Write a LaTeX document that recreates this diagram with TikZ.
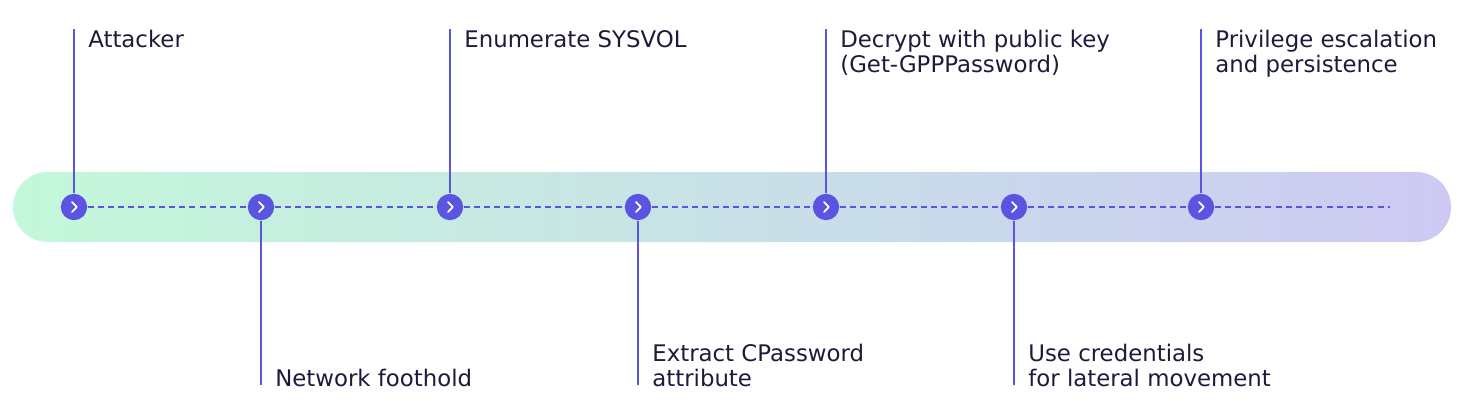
\documentclass[tikz,border=0pt]{standalone}
\usepackage{fontspec}
\setmainfont{DejaVu Sans}
\usepackage{xcolor}
\usetikzlibrary{positioning}

\definecolor{stepblue}{HTML}{5B54E0}
\definecolor{labelink}{HTML}{1C1B3B}
\definecolor{mintbg}{HTML}{C4F8DA}
\definecolor{lilacbg}{HTML}{CDC9F3}

\begin{document}
\begin{tikzpicture}[
  x=0.02cm, y=-0.02cm,
  every node/.style={font=\fontsize{13pt}{14.2pt}\selectfont, text=labelink},
  dot/.style={circle, fill=stepblue, minimum size=15pt, inner sep=0pt},
  stem/.style={draw=stepblue, line width=1.15pt},
  trail/.style={draw=stepblue, line width=1.15pt, dash pattern=on 3.4pt off 2.4pt},
  chev/.style={draw=white, line width=1pt, line cap=round, line join=round},
  tag/.style={anchor=base west, align=left, inner sep=0pt},
]
\useasboundingbox (0,0) rectangle (1464,414);
% Track
\shade[left color=mintbg, right color=lilacbg, rounded corners=19.8pt]
  (13,172) rectangle (1451,242);

% Steps
\node[dot] (d1) at (74,207) {};
\node[dot] (d2) at (261,207) {};
\node[dot] (d3) at (450,207) {};
\node[dot] (d4) at (638,207) {};
\node[dot] (d5) at (826,207) {};
\node[dot] (d6) at (1014,207) {};
\node[dot] (d7) at (1201,207) {};
\coordinate (tail) at (1390,207);

% Dashed trail
\draw[trail] (d1) -- (d2) -- (d3) -- (d4) -- (d5) -- (d6) -- (d7) -- (tail);

% Chevrons
\foreach \i in {1,...,7}
  \draw[chev] ([shift={(-2,-5)}]d\i.center) -- ([shift={(2.8,0)}]d\i.center)
    -- ([shift={(-2,5)}]d\i.center);

% Stems
\coordinate (t1) at (74,29);
\coordinate (b2) at (261,385);
\coordinate (t3) at (450,29);
\coordinate (b4) at (638,385);
\coordinate (t5) at (826,29);
\coordinate (b6) at (1014,385);
\coordinate (t7) at (1201,29);
\draw[stem] (t1) -- (d1);
\draw[stem] (d2) -- (b2);
\draw[stem] (t3) -- (d3);
\draw[stem] (d4) -- (b4);
\draw[stem] (t5) -- (d5);
\draw[stem] (d6) -- (b6);
\draw[stem] (t7) -- (d7);

% Labels
\node[tag] (lbl1) at (88,47) {Attacker};
\node[tag] (lbl2) at (275,386) {Network foothold};
\node[tag] (lbl3) at (464,47) {Enumerate SYSVOL};
\node[tag] (lbl4) at (652,386) {Extract CPassword\\attribute};
\node[tag] (lbl5) at (840,72) {Decrypt with public key\\(Get-GPPPassword)};
\node[tag] (lbl6) at (1028,386) {Use credentials\\for lateral movement};
\node[tag] (lbl7) at (1215,72) {Privilege escalation\\and persistence};
\end{tikzpicture}
\end{document}
